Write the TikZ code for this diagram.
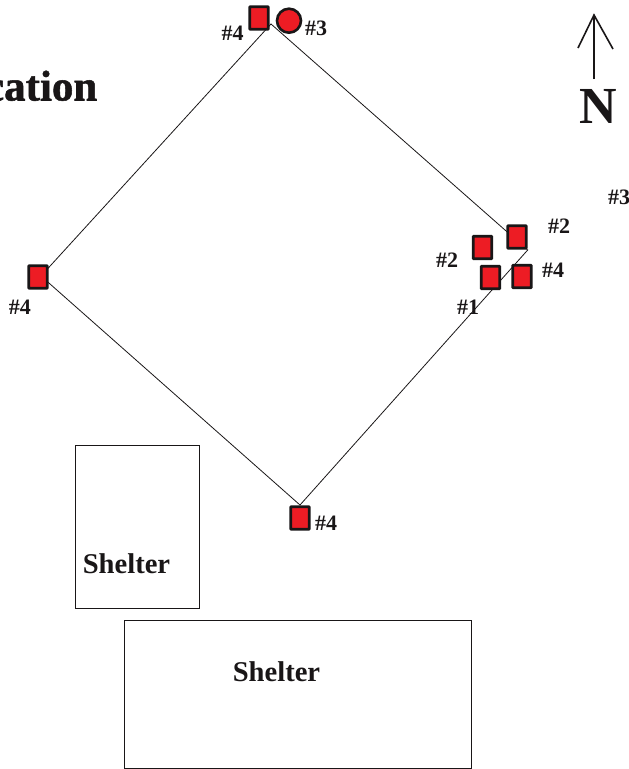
\documentclass[tikz,border=0pt]{standalone}
\usepackage{fontspec}
\setmainfont{Liberation Serif}
\newfontfamily\titlefont[FakeBold=1.2]{Liberation Serif Bold}
\definecolor{sensorred}{RGB}{237,28,36}
\definecolor{ink}{RGB}{25,22,23}
\tikzset{
  wire/.style={draw=ink,line width=0.8pt},
  sensorbox/.style={draw=ink,fill=sensorred,line width=2.8pt,minimum width=18.4pt,minimum height=22.4pt,inner sep=0pt,rounded corners=0.5pt,outer sep=0pt},
  sensorround/.style={circle,draw=ink,fill=sensorred,line width=2.6pt,minimum size=24pt,inner sep=0pt},
  tag/.style={font=\fontsize{22}{22}\selectfont\bfseries,text=ink,inner sep=0pt,anchor=base},
  shelterbox/.style={draw=ink,line width=0.7pt,inner sep=0pt},
  sheltertext/.style={font=\fontsize{28.6}{28.6}\selectfont\bfseries,text=ink,inner sep=0pt,anchor=base}
}
\begin{document}
\begin{tikzpicture}[x=1pt,y=-1pt]
\useasboundingbox (0,0) rectangle (629,769);
\clip (0,0) rectangle (629,769);
% diamond corners
\coordinate (top) at (271,24);
\coordinate (right) at (527.7,250);
\coordinate (bottom) at (300,505);
\coordinate (left) at (41,276);
\draw[wire] (top) -- (right) -- (bottom) -- (left) -- cycle;
% sensors
\node[sensorbox] (s1) at (259,18) {};
\node[sensorround] (s2) at (289,20.7) {};
\node[sensorbox] (s3) at (517,237) {};
\node[sensorbox] (s4) at (482.5,247.5) {};
\node[sensorbox] (s5) at (490.5,277.5) {};
\node[sensorbox] (s6) at (522,276.5) {};
\node[sensorbox] (s7) at (38,277) {};
\node[sensorbox] (s8) at (300,518) {};
% labels
\node[tag] (l1) at (232.5,40) {\#4};
\node[tag] (l2) at (316,35) {\#3};
\node[tag] (l3) at (619,204) {\#3};
\node[tag] (l4) at (559,233) {\#2};
\node[tag] (l5) at (447,267) {\#2};
\node[tag] (l6) at (553,277) {\#4};
\node[tag] (l7) at (468,314) {\#1};
\node[tag] (l8) at (20,314) {\#4};
\node[tag] (l9) at (326,530) {\#4};
% shelters
\node[shelterbox,minimum width=124pt,minimum height=163pt] (sh1) at (137,526.5) {};
\node[shelterbox,minimum width=347pt,minimum height=148pt] (sh2) at (297.5,694) {};
\node[sheltertext] (t1) at (126.5,573) {Shelter};
\node[sheltertext] (t2) at (276.5,681) {Shelter};
% title
\node[inner sep=0pt,anchor=base east,text=ink,font=\fontsize{43}{43}\selectfont] (title) at (97.5,100.5) {\titlefont cation};
% north arrow
\node[inner sep=0pt,anchor=base,text=ink,font=\fontsize{52}{52}\selectfont\bfseries] (north) at (598.5,123) {N};
\coordinate (tip) at (594,15);
\coordinate (tail) at (594,79);
\coordinate (barbl) at (578,48);
\coordinate (barbr) at (613,49);
\draw[draw=ink,line width=1.3pt] (tail) -- (tip);
\draw[draw=ink,line width=1.6pt] (barbl) -- (tip) -- (barbr);
\end{tikzpicture}
\end{document}
